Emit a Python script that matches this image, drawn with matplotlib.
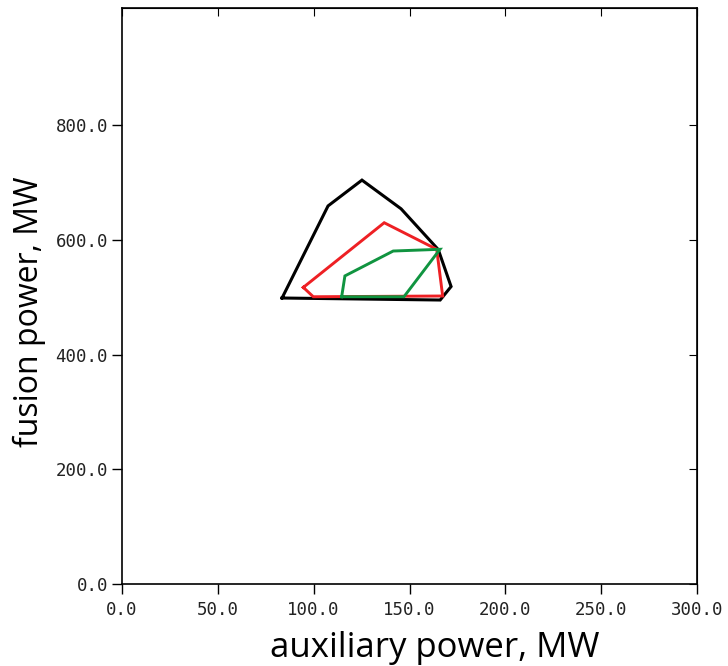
import matplotlib
matplotlib.use("Agg")
import matplotlib.pyplot as plt

# operating-space boundaries (auxiliary power MW, fusion power MW)
black_x = [83.5, 107.5, 125.2, 145.6, 165.0, 171.7, 166.0, 83.5]
black_y = [498.5, 659.0, 704.0, 654.0, 583.0, 518.5, 495.0, 498.5]
red_x = [94.6, 136.8, 164.2, 167.3, 99.8, 94.6]
red_y = [517.0, 629.7, 583.4, 502.0, 500.7, 517.0]
green_x = [114.6, 116.3, 141.5, 165.9, 147.1, 114.6]
green_y = [500.7, 537.0, 580.4, 583.4, 500.7, 500.7]

xticks = [0, 50, 100, 150, 200, 250, 300]
yticks = [0, 200, 400, 600, 800]

fig = plt.figure(figsize=(7.28, 6.66), dpi=100)
ax = fig.add_axes([0.1676, 0.1231, 0.7898, 0.8649])

ax.plot(black_x, black_y, color="black", lw=2.2, solid_joinstyle="miter")
ax.plot(red_x, red_y, color="#ee2024", lw=2.1, solid_joinstyle="miter")
ax.plot(green_x, green_y, color="#109440", lw=2.1, solid_joinstyle="miter")

ax.set_xlim(0, 300)
ax.set_ylim(0, 1004)
ax.set_xticks(xticks)
ax.set_yticks(yticks)
tick_font = dict(family="DejaVu Sans Mono", fontsize=12.5, color="#222222")
ax.set_xticklabels(["%.1f" % v for v in xticks], **tick_font)
ax.set_yticklabels(["%.1f" % v for v in yticks], **tick_font)
ax.tick_params(axis="both", direction="out", length=7, width=1, pad=3)
ax.tick_params(axis="x", pad=5)

# inward ticks on the top and right spines
top = ax.secondary_xaxis("top")
top.set_xticks(xticks)
top.tick_params(direction="in", length=6, labeltop=False)
right = ax.secondary_yaxis("right")
right.set_yticks(yticks)
right.tick_params(direction="in", length=6, labelright=False)

for s in ax.spines.values():
    s.set_linewidth(1.2)

ax.set_xlabel("auxiliary power, MW", family="Open Sans", fontsize=25)
ax.set_ylabel("fusion power, MW", family="Open Sans", fontsize=23)
ax.xaxis.set_label_coords(0.544, -0.082)
ax.yaxis.set_label_coords(-0.133, 0.472)

fig.savefig("out.png", dpi=100)
